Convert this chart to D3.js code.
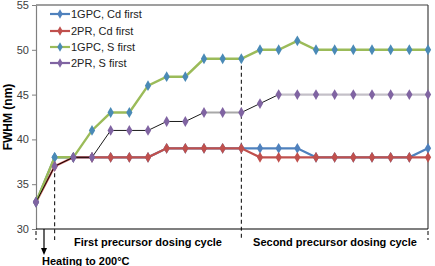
<!DOCTYPE html>
<html><head><meta charset="utf-8">
<script src="https://cdn.jsdelivr.net/npm/d3@7"></script>
<style>body{margin:0;background:#fff}svg{display:block;font-family:"Liberation Sans",Arial,sans-serif}</style>
</head><body><svg id="c" width="435" height="266"></svg>
<script>
const steps = d3.range(22);
const seriesNames = ["1GPC, Cd first", "2PR, Cd first", "1GPC, S first", "2PR, S first"];
const gpcCd = [33,38,38,38,38,38,38,39,39,39,39,39,39,39,39,38,38,38,38,38,38,39];
const prCd  = [33,37,38,38,38,38,38,39,39,39,39,39,38,38,38,38,38,38,38,38,38,38];
const gpcS  = [33,38,38,41,43,43,46,47,47,49,49,49,50,50,51,50,50,50,50,50,50,50];
const prS   = [33,37,38,38,41,41,41,42,42,43,43,43,44,45,45,45,45,45,45,45,45,45];
const yTicks = [30,35,40,45,50,55];
const phaseLabels = ["First precursor dosing cycle", "Second precursor dosing cycle"];
const heatingLabel = "Heating to 200°C";
const yTitle = "FWHM (nm)";

const FONT = "'Liberation Sans', Arial, sans-serif";
const svg = d3.select("#c");
const L = 36, R = 428, T = 5, B = 229;
const x = d3.scaleLinear().domain([0,21]).range([L,R]);
const y = d3.scaleLinear().domain([30,55]).range([B,T]);

// frame
svg.append("line").attr("x1",L).attr("x2",R).attr("y1",T).attr("y2",T).attr("stroke","#404040").attr("stroke-width",1.2);
svg.append("line").attr("x1",R).attr("x2",R).attr("y1",T).attr("y2",B).attr("stroke","#404040").attr("stroke-width",1.2);

const ya = svg.append("g").attr("transform",`translate(${L},0)`)
  .call(d3.axisLeft(y).tickValues(yTicks).tickSize(4).tickSizeOuter(0).tickPadding(3));
ya.select(".domain").attr("stroke","#808080").attr("stroke-width",1.2);
ya.selectAll(".tick line").attr("stroke","#808080");
ya.selectAll("text").attr("font-size",11).attr("fill","#404040").attr("font-family",FONT);

svg.append("line").attr("x1",L).attr("x2",R).attr("y1",B).attr("y2",B).attr("stroke","#000").attr("stroke-width",1.2);

svg.append("text").attr("transform",`translate(12,${(T+B)/2}) rotate(-90)`)
  .attr("text-anchor","middle").attr("font-size",12).attr("font-weight","bold").text(yTitle);

// dashed markers
const dash = (i, y1, y2) => svg.append("line").attr("x1",x(i)).attr("x2",x(i)).attr("y1",y1).attr("y2",y2)
  .attr("stroke","#000").attr("stroke-width",1).attr("stroke-dasharray","4,3");
dash(0, B+2, 240);
dash(1, y(prS[1]), 240);
dash(11, y(gpcS[11]), 240);
dash(21, B+2, 240);

const diamond = d3.symbol().type(d3.symbolDiamond).size(34);
const line = d3.line().x((d,i)=>x(i)).y(d=>y(d));

function drawSeries(vals, lineColor, width) {
  svg.append("path").attr("d", line(vals)).attr("fill","none").attr("stroke",lineColor).attr("stroke-width",width);
}
function drawMarks(vals, markColor) {
  svg.selectAll(null).data(vals).enter().append("path")
    .attr("d", diamond).attr("transform",(d,i)=>`translate(${x(i)},${y(d)})`).attr("fill",markColor);
}
const colors = {blue:"#4F81BD", red:"#C0504D", green:"#9BBB59", purple:"#8064A2", teal:"#4A8AB6"};

drawSeries(gpcCd, colors.blue, 2.2); drawMarks(gpcCd, colors.blue);
drawSeries(prCd, colors.red, 2.2); drawMarks(prCd, colors.red);
drawSeries(gpcS, colors.green, 2.4); drawMarks(gpcS, colors.teal);
// 2PR, S first: gray flat segments with thin black overlay
const segLine = d3.line().x(d=>x(d)).y(d=>y(prS[d]));
svg.append("path").attr("d", segLine(d3.range(9,12))).attr("fill","none").attr("stroke","#a8a8a8").attr("stroke-width",2.2);
svg.append("path").attr("d", segLine(d3.range(13,22))).attr("fill","none").attr("stroke","#c4c0c8").attr("stroke-width",2.2);
svg.append("path").attr("d", segLine(d3.range(0,10))).attr("fill","none").attr("stroke","#000").attr("stroke-width",0.9);
svg.append("path").attr("d", segLine(d3.range(11,14))).attr("fill","none").attr("stroke","#000").attr("stroke-width",0.9);
drawMarks(prS, colors.purple);

// legend
const legColors = [[colors.blue,colors.blue],[colors.red,colors.red],[colors.green,colors.teal],[colors.purple,colors.purple]];
const legY = [14,31,47,63];
seriesNames.forEach((n,i)=>{
  const g = svg.append("g").attr("transform",`translate(50,${legY[i]})`);
  g.append("line").attr("x1",0).attr("x2",20).attr("stroke",legColors[i][0]).attr("stroke-width",2.2);
  g.append("path").attr("d",d3.symbol().type(d3.symbolDiamond).size(26)).attr("transform","translate(10,0)").attr("fill",legColors[i][1]);
  g.append("text").attr("x",21).attr("dy","0.36em").attr("font-size",11).attr("fill","#222").attr("font-family",FONT).text(n);
});

// annotations
svg.append("text").attr("x",148).attr("y",246).attr("text-anchor","middle").attr("font-family",FONT)
  .attr("font-size",11).attr("font-weight","bold").text(phaseLabels[0]);
svg.append("text").attr("x",335).attr("y",246).attr("text-anchor","middle").attr("font-family",FONT)
  .attr("font-size",11).attr("font-weight","bold").text(phaseLabels[1]);
const ax = 44;
svg.append("line").attr("x1",ax).attr("x2",ax).attr("y1",B).attr("y2",250).attr("stroke","#000").attr("stroke-width",1.2);
svg.append("path").attr("d",`M${ax-3},248 L${ax+3},248 L${ax},255 Z`).attr("fill","#000");
svg.append("text").attr("x",42).attr("y",265).attr("font-size",11).attr("font-weight","bold").attr("font-family",FONT).text(heatingLabel);
</script></body></html>
